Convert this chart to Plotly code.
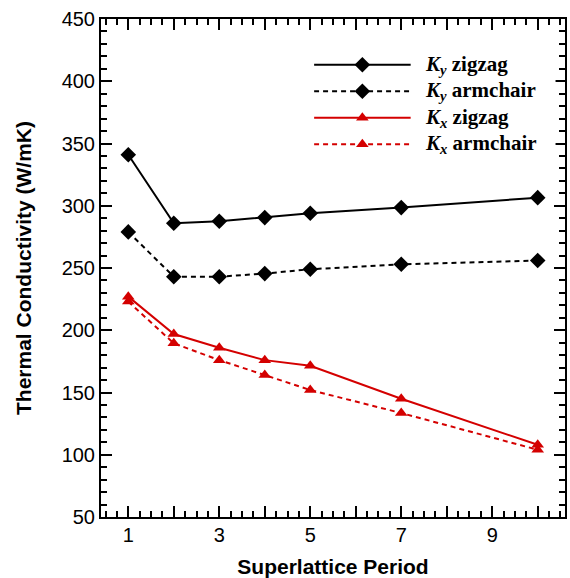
import plotly.graph_objects as go

# Superlattice periods and thermal conductivities (W/mK)
periods = [1, 2, 3, 4, 5, 7, 10]
ky_zigzag = [341, 286, 287.5, 290.5, 294, 298.5, 306.5]
ky_armchair = [279, 243, 243, 245.5, 249, 253, 256]
kx_zigzag = [227, 197, 186, 176, 171.5, 145, 108]
kx_armchair = [223, 189.5, 176, 164, 152, 133.5, 104]

x_label_values = [1, 3, 5, 7, 9]

RED = "rgb(212,0,0)"
BLACK = "black"
DASH = "5px,4px"

series = [
    ("K<sub>y</sub> zigzag", ky_zigzag, BLACK, "solid", "diamond", 12),
    ("K<sub>y</sub> armchair", ky_armchair, BLACK, DASH, "diamond", 12),
    ("K<sub>x</sub> zigzag", kx_zigzag, RED, "solid", "triangle-up", 11),
    ("K<sub>x</sub> armchair", kx_armchair, RED, DASH, "triangle-up", 11),
]
legend_labels = [
    "<b><i>K<sub>y</sub></i> zigzag</b>",
    "<b><i>K<sub>y</sub></i> armchair</b>",
    "<b><i>K<sub>x</sub></i> zigzag</b>",
    "<b><i>K<sub>x</sub></i> armchair</b>",
]

fig = go.Figure()
for name, vals, color, dash, sym, size in series:
    fig.add_trace(go.Scatter(
        x=periods, y=vals, mode="lines+markers", name=name,
        line=dict(color=color, width=2, dash=dash),
        marker=dict(symbol=sym, size=size, color=color),
        showlegend=False, xaxis="x", yaxis="y",
    ))

# Legend drawn on its own small axis pair: sample line from 0 to 1, text after it
for i, (name, vals, color, dash, sym, size) in enumerate(series):
    row = 3 - i
    fig.add_trace(go.Scatter(
        x=[0, 1], y=[row, row], mode="lines",
        line=dict(color=color, width=2, dash=dash),
        showlegend=False, xaxis="x2", yaxis="y2", hoverinfo="skip",
    ))
    fig.add_trace(go.Scatter(
        x=[0.5], y=[row], mode="markers",
        marker=dict(symbol=sym, size=size, color=color),
        showlegend=False, xaxis="x2", yaxis="y2", hoverinfo="skip",
    ))
    fig.add_annotation(
        x=1.13, y=row, xref="x2", yref="y2", text=legend_labels[i],
        showarrow=False, xanchor="left", yanchor="middle",
        font=dict(family="Liberation Serif", size=21, color="black"),
    )

# Invisible carrier trace so the labelled overlay axis is drawn
fig.add_trace(go.Scatter(x=[periods[0]], y=[ky_zigzag[0]], mode="none",
                         showlegend=False, xaxis="x3", yaxis="y", hoverinfo="skip"))

axis_font = dict(family="Liberation Sans", size=20, color="black")
title_font = dict(family="Liberation Sans", size=21, color="black")

fig.update_layout(
    width=570, height=578,
    margin=dict(l=101, r=3, t=19, b=58),
    plot_bgcolor="white", paper_bgcolor="white",
    xaxis=dict(
        range=[0.4, 10.6], dtick=1, tick0=1, showticklabels=False,
        ticks="inside", ticklen=11, tickwidth=2, tickcolor="black",
        showline=True, linewidth=2, linecolor="black", mirror="ticks",
        showgrid=False, zeroline=False,
        minor=dict(dtick=0.25, tick0=0, ticks="inside", ticklen=6, tickwidth=1.5,
                   tickcolor="black", showgrid=False),
    ),
    xaxis3=dict(
        range=[0.4, 10.6], overlaying="x", side="bottom", anchor="y",
        tickvals=x_label_values, ticks="", showline=False, showgrid=False,
        zeroline=False, tickfont=axis_font, ticklabelstandoff=4,
        title=dict(text="<b>Superlattice Period</b>", font=title_font, standoff=14),
    ),
    yaxis=dict(
        range=[50, 450], dtick=50, tick0=50,
        ticks="inside", ticklen=11, tickwidth=2, tickcolor="black",
        showline=True, linewidth=2, linecolor="black", mirror="ticks",
        showgrid=False, zeroline=False, tickfont=axis_font,
        minor=dict(dtick=10, tick0=0, ticks="inside", ticklen=6, tickwidth=1.5,
                   tickcolor="black", showgrid=False),
        title=dict(text="<b>Thermal Conductivity (W/mK)</b>", font=title_font, standoff=24),
    ),
    xaxis2=dict(domain=[0.4592, 0.9796], range=[0, 2.5], visible=False, fixedrange=True),
    yaxis2=dict(domain=[0.722, 0.9347], range=[-0.5, 3.5], visible=False, fixedrange=True),
)

fig.write_html("out.html")
